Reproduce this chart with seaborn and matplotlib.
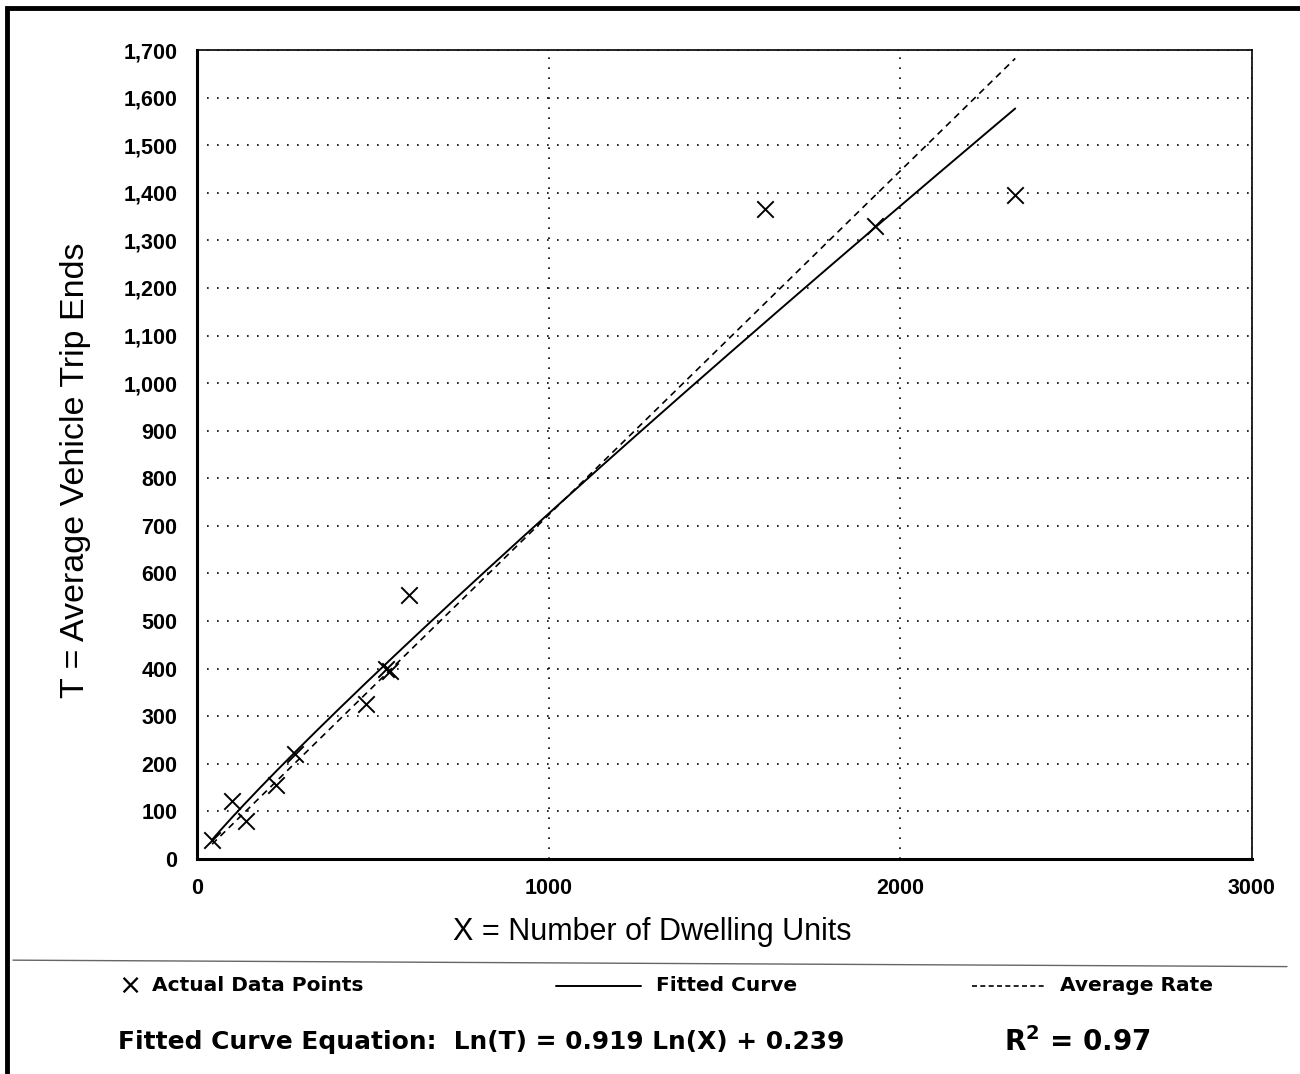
import numpy as np
import pandas as pd
import matplotlib
matplotlib.use('Agg')
import matplotlib.pyplot as plt
import seaborn as sns
from matplotlib.ticker import FuncFormatter, MultipleLocator
from matplotlib.lines import Line2D
from matplotlib.patches import Rectangle

# Actual data points (dwelling units, trip ends)
units = [43, 100, 140, 225, 280, 480, 537, 550, 602, 1616, 1929, 2327]
trips = [40, 122, 80, 155, 220, 325, 400, 395, 555, 1365, 1330, 1395]

# Fitted curve: Ln(T) = 0.919 Ln(X) + 0.239 ; average rate T = 0.723 X
fit_slope = 0.919
fit_const = 0.239
avg_rate = 0.723
x_range = [43, 2327]

points = pd.DataFrame({'X': units, 'T': trips})
xs = np.linspace(x_range[0], x_range[1], 200)
curves = pd.DataFrame({
    'X': xs,
    'fit': np.exp(fit_slope * np.log(xs) + fit_const),
    'avg': avg_rate * xs,
})

sns.set_style('white')
plt.rcParams['font.family'] = ['Liberation Sans', 'DejaVu Sans']
plt.rcParams['text.color'] = 'black'
plt.rcParams['axes.labelcolor'] = 'black'
plt.rcParams['xtick.color'] = 'black'
plt.rcParams['ytick.color'] = 'black'

fig = plt.figure(figsize=(13, 10.74), dpi=100)
ax = fig.add_axes([0.1515, 0.2002, 0.8115, 0.7532])

sns.lineplot(data=curves, x='X', y='fit', ax=ax, color='black', lw=1.4)
sns.lineplot(data=curves, x='X', y='avg', ax=ax, color='black', lw=1.2, linestyle=(0, (4, 3)))
sns.scatterplot(data=points, x='X', y='T', ax=ax, marker='x', s=140, color='black', linewidth=1.4)

ax.set_xlim(0, 3000)
ax.set_ylim(0, 1700)
ax.xaxis.set_major_locator(MultipleLocator(1000))
ax.xaxis.set_minor_locator(MultipleLocator(500))
ax.yaxis.set_major_locator(MultipleLocator(100))
ax.yaxis.set_minor_locator(MultipleLocator(50))
ax.yaxis.set_major_formatter(FuncFormatter(lambda v, p: f'{int(v):,}'))
ax.grid(True, which='major', color='black', linestyle=(0, (1, 5)), lw=1.2)
ax.tick_params(axis='both', which='major', direction='out', length=8, width=1.5,
               labelsize=15.5, pad=6, colors='black')
ax.tick_params(axis='both', which='minor', direction='in', length=5, width=1.2)
for lab in ax.get_xticklabels() + ax.get_yticklabels():
    lab.set_fontweight('bold')
for side in ['left', 'bottom']:
    ax.spines[side].set_linewidth(2.2)
    ax.spines[side].set_color('black')
for side in ['top', 'right']:
    ax.spines[side].set_linewidth(1.2)
    ax.spines[side].set_color('black')

ax.set_xlabel('X = Number of Dwelling Units', fontsize=22)
ax.xaxis.set_label_coords(0.432, -0.072)
ax.set_ylabel('T = Average Vehicle Trip Ends', fontsize=24.5)
ax.yaxis.set_label_coords(-0.1, 0.48)

# separator line
fig.add_artist(Line2D([0.01, 0.99], [0.106, 0.100], color='0.4', lw=1))

# legend row
ly = 0.082
fig.text(0.091, ly, '\u00d7', fontsize=20, va='center', ha='left', family='DejaVu Sans')
fig.text(0.117, ly, 'Actual Data Points', fontsize=14.5, fontweight='bold', va='center',
         family='DejaVu Sans')
fig.add_artist(Line2D([0.428, 0.493], [ly, ly], color='black', lw=1.4))
fig.text(0.505, ly, 'Fitted Curve', fontsize=14.5, fontweight='bold', va='center',
         family='DejaVu Sans')
fig.add_artist(Line2D([0.748, 0.804], [ly, ly], color='black', lw=1.2, linestyle=(0, (3, 2))))
fig.text(0.815, ly, 'Average Rate', fontsize=14.5, fontweight='bold', va='center',
         family='DejaVu Sans')

ey = 0.030
fig.text(0.091, ey, 'Fitted Curve Equation:  Ln(T) = 0.919 Ln(X) + 0.239', fontsize=17.9,
         fontweight='bold', va='center', family='DejaVu Sans')
fig.text(0.772, ey, r'R$^\mathbf{2}$ = 0.97', fontsize=20, fontweight='bold', va='center',
         family='DejaVu Sans')

# outer border
fig.add_artist(Rectangle((0.005, -0.02), 1.0, 1.013, transform=fig.transFigure,
                         fill=False, edgecolor='black', lw=3.5))

fig.savefig('out.png', dpi=100)
